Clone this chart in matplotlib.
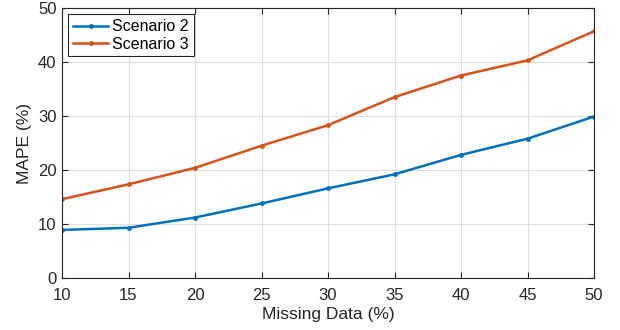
import numpy as np
import matplotlib.pyplot as plt

plt.rcParams['font.family'] = ['Liberation Sans', 'DejaVu Sans']

missing = [10, 15, 20, 25, 30, 35, 40, 45, 50]
scenario2 = [8.9, 9.3, 11.2, 13.8, 16.6, 19.2, 22.8, 25.8, 29.9]
scenario3 = [14.6, 17.35, 20.4, 24.5, 28.3, 33.5, 37.5, 40.3, 45.7]

axcol = '#262626'

fig = plt.figure(figsize=(6.2, 3.3), dpi=100)
ax = fig.add_axes([62/620, 1 - 278/330, (594-62)/620, (278-8)/330])

ax.plot(missing, scenario2, '.-', color='#0072BD', lw=1.8, ms=5, label='Scenario 2')
ax.plot(missing, scenario3, '.-', color='#D95319', lw=1.8, ms=5, label='Scenario 3')

ax.set_xlim(10, 50)
ax.set_ylim(0, 50)
ax.set_xticks(np.arange(10, 51, 5))
ax.set_yticks(np.arange(0, 51, 10))
ax.grid(True, color='#dfdfdf', lw=0.8)
ax.set_axisbelow(True)
ax.tick_params(direction='in', top=True, right=True, colors=axcol, labelsize=12, length=4, width=0.8)
ax.tick_params(axis='x', pad=7)
ax.tick_params(axis='y', pad=4)
for s in ax.spines.values():
    s.set_color(axcol)
    s.set_linewidth(0.8)

ax.set_xlabel('Missing Data (%)', fontsize=12.5, color=axcol, labelpad=3)
ax.set_ylabel('MAPE (%)', fontsize=12.5, color=axcol, labelpad=4)

leg = ax.legend(loc='upper left', fontsize=11.5, fancybox=False, framealpha=1,
                edgecolor=axcol, handlelength=2.2, handletextpad=0.25,
                borderaxespad=0.4, borderpad=0.3, labelspacing=0.15)
leg.get_frame().set_linewidth(0.8)

fig.savefig('out.png', dpi=100)
